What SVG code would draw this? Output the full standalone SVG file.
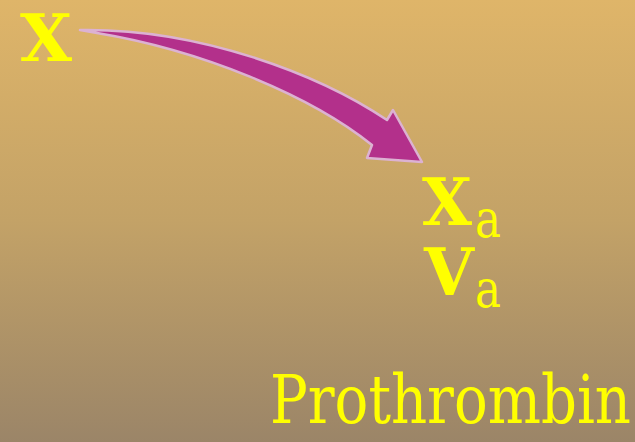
<svg xmlns="http://www.w3.org/2000/svg" width="635" height="442" viewBox="0 0 635 442">
<defs>
<linearGradient id="bg" x1="0" y1="0" x2="0" y2="1">
<stop offset="0" stop-color="#dfb569"/>
<stop offset="0.5" stop-color="#c3a267"/>
<stop offset="1" stop-color="#9b8568"/>
</linearGradient>
</defs>
<style>
text{font-family:'DejaVu Serif','Liberation Serif',serif;fill:#ffff00;}
.big{font-size:65px;}
.bold{font-weight:bold;}
.sub{font-size:52px;}
.label{font-size:57px;}
.arrow{fill:#b3308b;stroke:#dcb2d2;stroke-width:2.5;stroke-linejoin:round;}
</style>
<rect width="635" height="442" fill="url(#bg)"/>
<g id="connectors">
<path class="arrow" d="M80,30 C200,28 320,75 387,120 L393,110 L422,162 L367,158 L372,145 C310,95 200,50 97,33 Z"/>
</g>
<g id="node-x"><text class="big bold" x="20" y="61" textLength="52" lengthAdjust="spacingAndGlyphs">X</text></g>
<g id="node-xa"><text class="big bold" x="422" y="225" textLength="50" lengthAdjust="spacingAndGlyphs">X</text><text class="sub" x="475" y="237" textLength="26" lengthAdjust="spacingAndGlyphs">a</text></g>
<g id="node-va"><text class="big bold" x="424" y="295" textLength="50" lengthAdjust="spacingAndGlyphs">V</text><text class="sub" x="475" y="307" textLength="26" lengthAdjust="spacingAndGlyphs">a</text></g>
<g id="node-prothrombin"><text class="label" transform="translate(270,423) scale(1,1.18)" x="0" y="0" textLength="361" lengthAdjust="spacingAndGlyphs">Prothrombin</text></g>
</svg>
